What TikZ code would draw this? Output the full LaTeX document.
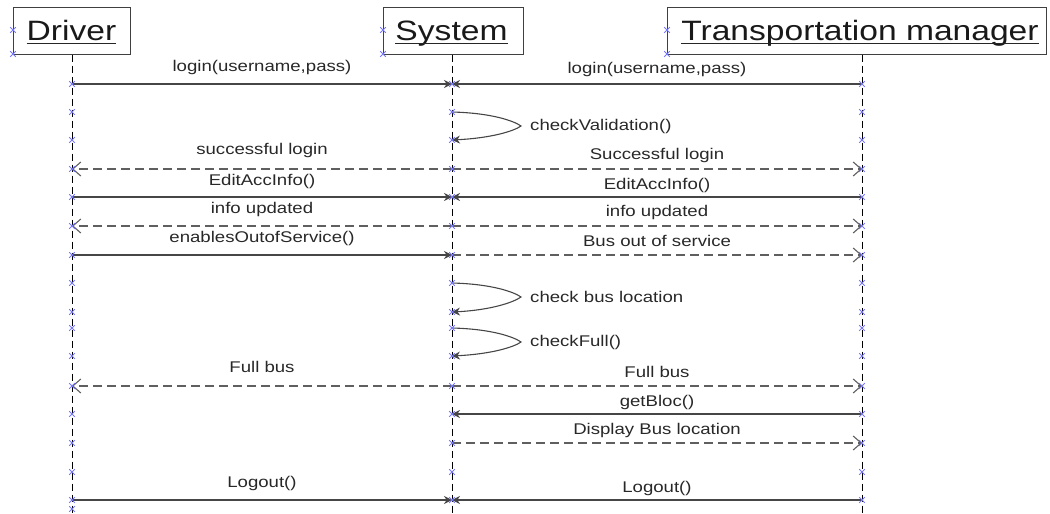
\documentclass[tikz,border=0pt]{standalone}
\usepackage{fontspec}
\setmainfont{Liberation Sans}[FakeStretch=1.2]
\usetikzlibrary{arrows.meta}
\definecolor{cpblue}{RGB}{120,120,255}
\definecolor{lnsolid}{RGB}{70,70,70}
\definecolor{lndash}{RGB}{95,95,95}
\definecolor{txt}{RGB}{40,40,40}
\begin{document}
\begin{tikzpicture}[x=1pt,y=-1pt,
  lifeline/.style={black, line width=1pt, dash pattern=on 7pt off 4pt},
  callmsg/.style={draw=lnsolid, line width=1.1pt, -{Stealth[length=8pt,width=8pt]}},
  retmsg/.style={draw=lndash, line width=1.1pt, dash pattern=on 9pt off 5pt, -{Straight Barb[length=8pt,width=14pt]}},
  lbl/.style={font=\fontsize{15.5}{18}\selectfont, text=txt, inner sep=0pt},
  headbox/.style={draw=black!75, line width=1pt, inner sep=0pt},
  headtxt/.style={font=\fontsize{28}{32}\selectfont, text=black!90, inner sep=0pt, anchor=base},
  cpt/.pic={\draw[cpblue, line width=1pt] (-2.8,-2.8)--(2.8,2.8) (-2.8,2.8)--(2.8,-2.8);}
]
\useasboundingbox (0,0) rectangle (1050,514);

% header boxes
\node[headbox, minimum width=117pt, minimum height=47pt] (DB) at (71.5,30.5) {};
\node[headbox, minimum width=140pt, minimum height=47pt] (SB) at (453,30.5) {};
\node[headbox, minimum width=379pt, minimum height=47pt] (TB) at (856.5,30.5) {};
\node[headtxt] (DT) at (71.5,40.5) {Driver};
\node[headtxt] (ST) at (451.5,40.5) {System};
\node[headtxt] (TT) at (860,40.5) {Transportation manager};
\foreach \t in {DT,ST,TT}
  \draw[black!85, line width=1pt] ([yshift=-3pt]\t.base west) -- ([yshift=-3pt]\t.base east);
\foreach \xx in {13,383,667} { \pic at (\xx,30) {cpt}; \pic at (\xx,54) {cpt}; }

% lifeline points
\foreach \n/\yy in {1/84,2/112,3/140,4/169,5/197,6/226,7/255,8/283,9/312,10/328,11/356,12/386,13/414,14/443,15/472,16/500} {
  \coordinate (D\n) at (72,\yy);
  \coordinate (S\n) at (452,\yy);
  \coordinate (T\n) at (862,\yy);
}
\coordinate (Dend) at (72,513);
\coordinate (Send) at (452,514);
\coordinate (Tend) at (862,514);

% lifelines
\draw[lifeline] (DB.south -| D1) -- (Dend);
\draw[lifeline] (SB.south -| S1) -- (Send);
\draw[lifeline] (TB.south -| T1) -- (Tend);

% messages
\draw[callmsg] (D1) -- (S1);
\draw[callmsg] (T1) -- (S1);
\draw[callmsg] (S2) .. controls (492,113) and (514,121) .. (521,126) .. controls (514,131) and (492,138) .. (S3);
\draw[retmsg] (S4) -- (D4);
\draw[retmsg] (S4) -- (T4);
\draw[callmsg] (D5) -- (S5);
\draw[callmsg] (T5) -- (S5);
\draw[retmsg] (S6) -- (D6);
\draw[retmsg] (S6) -- (T6);
\draw[callmsg] (D7) -- (S7);
\draw[retmsg] (S7) -- (T7);
\draw[callmsg] (S8) .. controls (492,284) and (514,292) .. (521,297) .. controls (514,302) and (492,310) .. (S9);
\draw[callmsg] (S10) .. controls (492,329) and (514,337) .. (521,342) .. controls (514,347) and (492,354) .. (S11);
\draw[retmsg] (S12) -- (D12);
\draw[retmsg] (S12) -- (T12);
\draw[callmsg] (T13) -- (S13);
\draw[retmsg] (S14) -- (T14);
\draw[callmsg] (D16) -- (S16);
\draw[callmsg] (T16) -- (S16);

% connection point marks
\foreach \n in {1,...,16} { \pic at (D\n) {cpt}; \pic at (S\n) {cpt}; \pic at (T\n) {cpt}; }
\pic at (72,509) {cpt};

% labels
\node[lbl] (l1) at (262,67) {login(username,pass)};
\node[lbl] (r1) at (657,69) {login(username,pass)};
\node[lbl, anchor=west] (m2) at (530,126) {checkValidation()};
\node[lbl] (l4) at (262,150) {successful login};
\node[lbl] (r4) at (657,155) {Successful login};
\node[lbl] (l5) at (262,181) {EditAccInfo()};
\node[lbl] (r5) at (657,185) {EditAccInfo()};
\node[lbl] (l6) at (262,209) {info updated};
\node[lbl] (r6) at (657,212) {info updated};
\node[lbl] (l7) at (262,238) {enablesOutofService()};
\node[lbl] (r7) at (657,241) {Bus out of service};
\node[lbl, anchor=west] (m8) at (530,297) {check bus location};
\node[lbl, anchor=west] (m10) at (530,342) {checkFull()};
\node[lbl] (l12) at (262,367) {Full bus};
\node[lbl] (r12) at (657,372) {Full bus};
\node[lbl] (r13) at (657,402) {getBloc()};
\node[lbl] (r14) at (657,430) {Display Bus location};
\node[lbl] (l16) at (262,483) {Logout()};
\node[lbl] (r16) at (657,488) {Logout()};
\end{tikzpicture}
\end{document}
